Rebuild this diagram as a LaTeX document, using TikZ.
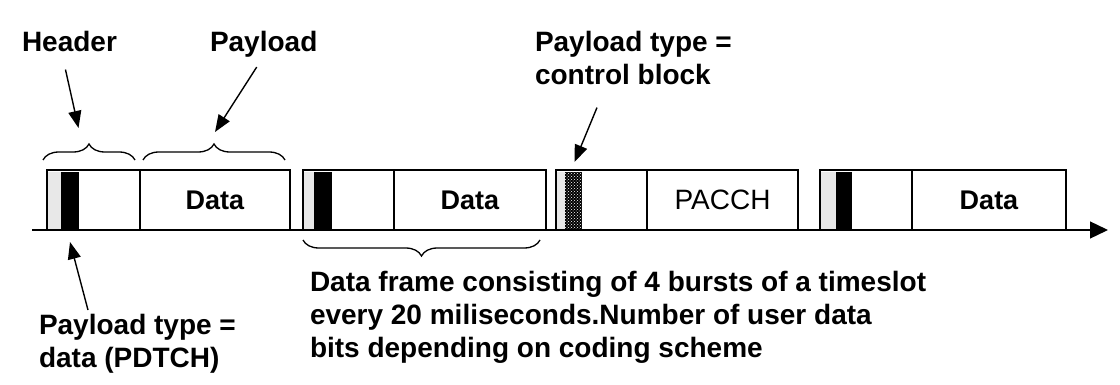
\documentclass[tikz,border=0pt]{standalone}
\usepackage{fontspec}
\setmainfont{Liberation Sans}
\usetikzlibrary{arrows.meta, positioning, decorations.pathreplacing, patterns}
\definecolor{stripgray}{RGB}{232, 232, 232}

\begin{document}
\begin{tikzpicture}[x=1pt, y=-1pt,
  every node/.style={inner sep=0pt, outer sep=0pt},
  part/.style={rectangle, draw=black, line width=1.6pt,
               minimum height=60pt, anchor=south west},
  strip/.style={rectangle, fill=stripgray, minimum height=58pt, anchor=south west},
  bar/.style={rectangle, fill=black, minimum height=58pt, anchor=south west},
  dotbar/.style={bar, postaction={pattern=crosshatch dots, pattern color=white}},
  datatext/.style={font=\fontsize{27}{33}\selectfont\bfseries},
  ctrltext/.style={font=\fontsize{28}{33}\selectfont},
  lbl/.style={font=\fontsize{28}{33}\selectfont\bfseries, align=left, anchor=north west},
  arrow/.style={-{Triangle[length=17pt, width=13pt]}, line width=1.4pt},
  axis/.style={-{Triangle[length=18pt, width=17pt]}, line width=1.3pt},
  brace/.style={decorate, decoration={brace, amplitude=16pt}, line width=1.3pt}
]
  \useasboundingbox (0,0) rectangle (1120,385);

  \coordinate (axstart) at (32,230);
  \coordinate (axend) at (1108,230);
  \draw[axis] (axstart) -- (axend);

  \foreach \i/\l/\s/\e/\d/\r/\kind/\tf/\txt in {
      1/47/61/79/140/290/bar/datatext/Data,
      2/303/314/332/394/546/bar/datatext/Data,
      3/556/565/582/647/798/dotbar/ctrltext/PACCH,
      4/820/836/852/912/1066/bar/datatext/Data} {
    \node[strip, minimum width={(\s-\l)*1pt}] (s\i) at (\l,230) {};
    \node[\kind, minimum width={(\e-\s)*1pt}] (b\i) at (\s,230) {};
    \node[part, minimum width={(\d-\l)*1pt}] (h\i) at (\l,230) {};
    \node[part, minimum width={(\r-\d)*1pt}] (p\i) at (\d,230) {};
    \node[\tf] (t\i) at (p\i.center) {\txt};
  }

  \draw[brace] ([xshift=-4pt, yshift=10pt]h1.north west) -- ([xshift=-5pt, yshift=10pt]h1.north east);
  \draw[brace] ([xshift=3pt, yshift=10pt]p1.north west) -- ([xshift=-5pt, yshift=10pt]p1.north east);
  \draw[brace] ([xshift=-6pt, yshift=-10pt]p2.south east) -- ([yshift=-10pt]h2.south west);

  \node[lbl] (header) at (22,31) {Header};
  \node[lbl] (payload) at (210,31) {Payload};
  \node[lbl] (ctrl) at (535,31) {Payload type =\\control block};
  \node[lbl] (pdtch) at (39,314) {Payload type =\\data (PDTCH)};
  \node[lbl] (frame) at (310,271) {Data frame consisting of 4 bursts of a timeslot\\
    every 20 miliseconds.Number of user data\\bits depending on coding scheme};

  \draw[arrow] ([xshift=-4pt, yshift=-18pt]header.south) -- ([xshift=-15pt, yshift=42pt]h1.north);
  \draw[arrow] ([xshift=-7pt, yshift=-10pt]payload.south) -- ([yshift=38pt]p1.north);
  \draw[arrow] ([xshift=62pt, yshift=-23pt]ctrl.south west) -- ([xshift=1pt, yshift=10pt]b3.north);
  \draw[arrow] ([xshift=49pt, yshift=4pt]pdtch.north west) -- ([yshift=-12pt]b1.south);
\end{tikzpicture}
\end{document}
